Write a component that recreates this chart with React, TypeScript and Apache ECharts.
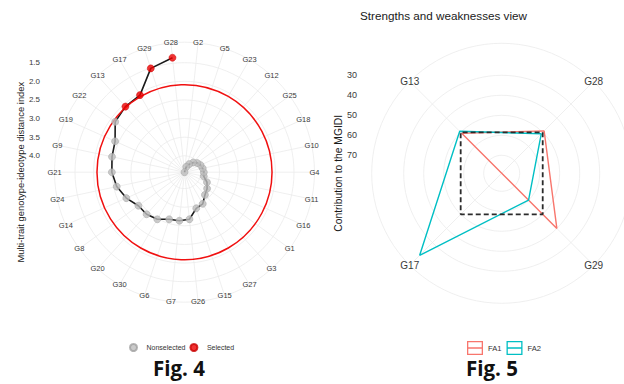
import React, { useEffect, useRef } from "react";
import * as echarts from "echarts";

// ---------------- Fig. 4 data ----------------
// genotypes in clockwise order around the circle, starting at the top
const fig4AngleCategories = [
  "G28", "G2", "G5", "G23", "G12", "G25", "G18", "G10", "G4", "G11",
  "G16", "G1", "G3", "G27", "G15", "G26", "G7", "G6", "G30", "G20",
  "G8", "G14", "G24", "G21", "G9", "G19", "G22", "G13", "G17", "G29",
];
// genotypes ranked by MGIDI (path order)
const fig4RankGenotypes = [
  "G28", "G29", "G17", "G13", "G22", "G19", "G9", "G21", "G24", "G14",
  "G8", "G20", "G30", "G6", "G7", "G26", "G15", "G27", "G3", "G1",
  "G16", "G11", "G4", "G10", "G18", "G25", "G12", "G23", "G5", "G2",
];
const fig4Mgidi = [
  1.35, 1.51, 2.05, 2.07, 2.14, 2.4, 2.45, 2.49, 2.58, 2.73,
  2.91, 2.92, 2.98, 3.11, 3.13, 3.17, 3.42, 3.46, 3.62, 3.69,
  3.78, 3.91, 3.92, 3.94, 3.97, 4.02, 4.09, 4.19, 4.29, 4.44,
];
const fig4Selected = ["G28", "G29", "G17", "G13"];
const fig4Cutoff = 2.09;
const fig4TickLabels = [1.5, 2.0, 2.5, 3.0, 3.5, 4.0];
const fig4LegendLabels = ["Nonselected", "Selected"];

// ---------------- Fig. 5 data ----------------
const fig5Categories = ["G28", "G29", "G17", "G13"];
const fig5FA1 = [49.0, 40.0, 79.0, 50.7];
const fig5FA2 = [51.0, 60.0, 21.0, 49.3];
const fig5Theoretical = [50, 50, 50, 50];
const fig5TickLabels = [30, 40, 50, 60, 70];
const fig5Factors = ["FA1", "FA2"];

// ---------------- layout / style ----------------
const W = 624;
const H = 384;
const LP = { cx: 184.5, cy: 172.2, R: 130, rOuter: 0.95, rCenter: 4.44, step: 0.05, startAngle: 102 };
const RP = { cx: 501.7, cy: 173.3, R: 130, rOuter: 14, rCenter: 79, step: 2, startAngle: 90 };
const FONT = "'Liberation Sans', Arial, sans-serif";
const GRID_COLOR = "#EBEBEB";
const TEXT_COLOR = "#3A3A3A";
const LEGEND_ICON =
  "path://M0,0H16V14H0Z M1.3,1.3V12.7H14.7V1.3Z M0,6.35H16V7.65H0Z";

function circleSeries(polarIndex: number, values: number[], cat: string, stroke: string, lineWidth: number, z: number) {
  return {
    type: "custom",
    coordinateSystem: "polar",
    polarIndex,
    silent: true,
    clip: false,
    z,
    data: values.map((v) => [v, cat]),
    renderItem: (params: any, api: any) => {
      const c = api.coord([api.value(0), api.value(1)]);
      const cs = params.coordSys;
      const r = Math.hypot(c[0] - cs.cx, c[1] - cs.cy);
      return {
        type: "circle",
        shape: { cx: cs.cx, cy: cs.cy, r },
        style: { fill: "none", stroke, lineWidth },
      };
    },
  };
}

function angleLabelSeries(polarIndex: number, cats: string[], rOuter: number, fontSize: number) {
  return {
    type: "custom",
    coordinateSystem: "polar",
    polarIndex,
    silent: true,
    clip: false,
    z: 6,
    data: cats.map((c) => [rOuter, c]),
    renderItem: (params: any, api: any) => {
      const c = api.coord([api.value(0), api.value(1)]);
      return {
        type: "text",
        x: c[0],
        y: c[1],
        style: {
          text: cats[params.dataIndex],
          fontSize,
          fontFamily: FONT,
          fill: TEXT_COLOR,
          align: "center",
          verticalAlign: "middle",
        },
      };
    },
  };
}

function closeLoop(vals: number[]) {
  return [...vals, vals[0]].map((v, i) => [v, fig5Categories[i % fig5Categories.length]]);
}

function angleAxisCfg(polarIndex: number, data: string[], startAngle: number) {
  return {
    polarIndex,
    type: "category",
    data,
    startAngle,
    clockwise: true,
    boundaryGap: true,
    axisLine: { show: true, lineStyle: { color: GRID_COLOR, width: 0.8 } },
    axisTick: { show: false, interval: 0, alignWithLabel: true },
    axisLabel: { show: false, interval: 0 },
    splitLine: { show: true, interval: 0, lineStyle: { color: GRID_COLOR, width: 0.8 } },
  };
}

function buildOption(): any {
  const pairs = fig4RankGenotypes.map((g, i) => [fig4Mgidi[i], g]);
  const nonSel = pairs.filter((p) => !fig4Selected.includes(p[1] as string));
  const sel = pairs.filter((p) => fig4Selected.includes(p[1] as string));

  const hiddenAxisParts = {
    axisLine: { show: false },
    axisTick: { show: false },
    splitLine: { show: false },
  };

  return {
    animation: false,
    backgroundColor: "#ffffff",
    textStyle: { fontFamily: FONT },
    title: [
      {
        text: "Strengths and weaknesses view",
        left: 360,
        top: 9,
        padding: 0,
        textStyle: { fontSize: 11.7, fontWeight: "normal", color: "#1a1a1a", fontFamily: FONT },
      },
      {
        text: "Fig. 4",
        left: 153,
        top: 357,
        padding: 0,
        textStyle: { fontSize: 20.5, fontWeight: "bold", color: "#111", fontFamily: "'Open Sans', sans-serif" },
      },
      {
        text: "Fig. 5",
        left: 466,
        top: 357,
        padding: 0,
        textStyle: { fontSize: 20.5, fontWeight: "bold", color: "#111", fontFamily: "'Open Sans', sans-serif" },
      },
    ],
    legend: [
      {
        data: fig4LegendLabels,
        left: 129,
        top: 343,
        padding: 0,
        itemWidth: 16,
        itemHeight: 7,
        itemGap: 4,
        icon: "circle",
        selectedMode: false,
        textStyle: { fontSize: 7, color: "#333", fontFamily: FONT },
      },
      {
        data: fig5Factors.map((n) => ({ name: n, icon: LEGEND_ICON })),
        left: 467,
        top: 341,
        padding: 0,
        itemWidth: 16,
        itemHeight: 14,
        itemGap: 5,
        selectedMode: false,
        itemStyle: { borderWidth: 0 },
        textStyle: { fontSize: 7.6, color: "#333", fontFamily: FONT },
      },
    ],
    polar: [
      { center: [LP.cx, LP.cy], radius: LP.R },
      { center: [RP.cx, RP.cy], radius: RP.R },
    ],
    angleAxis: [
      angleAxisCfg(0, fig4AngleCategories, LP.startAngle),
      angleAxisCfg(1, fig5Categories, RP.startAngle),
    ],
    radiusAxis: [
      {
        polarIndex: 0,
        type: "value",
        min: LP.rOuter,
        max: LP.rCenter,
        inverse: true,
        axisLabel: { show: false },
        ...hiddenAxisParts,
      },
      {
        polarIndex: 1,
        type: "value",
        min: RP.rOuter,
        max: RP.rCenter,
        inverse: true,
        axisLabel: { show: false },
        ...hiddenAxisParts,
      },
    ],
    grid: [
      { left: 44, top: LP.cy - LP.R, width: 1, height: 2 * LP.R, containLabel: false, outerBoundsMode: "none" },
      { left: 361, top: RP.cy - RP.R, width: 1, height: 2 * RP.R, containLabel: false, outerBoundsMode: "none" },
    ],
    xAxis: [
      { gridIndex: 0, type: "value", show: false },
      { gridIndex: 1, type: "value", show: false },
    ],
    yAxis: [
      {
        gridIndex: 0,
        type: "value",
        min: LP.rOuter,
        max: LP.rOuter + 2 * (LP.rCenter - LP.rOuter),
        interval: LP.step,
        inverse: true,
        ...hiddenAxisParts,
        axisLabel: {
          margin: 4,
          fontSize: 8,
          color: TEXT_COLOR,
          fontFamily: FONT,
          formatter: (v: number) =>
            fig4TickLabels.some((t) => Math.abs(t - v) < 1e-6) ? v.toFixed(1) : "",
        },
        name: "Multi-trait genotype-ideotype distance index",
        nameLocation: "middle",
        nameRotate: 90,
        nameGap: 17,
        nameTextStyle: { fontSize: 9.4, color: "#1a1a1a", fontFamily: FONT },
      },
      {
        gridIndex: 1,
        type: "value",
        min: RP.rOuter,
        max: RP.rOuter + 2 * (RP.rCenter - RP.rOuter),
        interval: RP.step,
        inverse: true,
        ...hiddenAxisParts,
        axisLabel: {
          margin: 4,
          fontSize: 9,
          color: TEXT_COLOR,
          fontFamily: FONT,
          formatter: (v: number) =>
            fig5TickLabels.some((t) => Math.abs(t - v) < 1e-6) ? String(Math.round(v)) : "",
        },
        name: "Contribution to the MGIDI",
        nameLocation: "middle",
        nameRotate: 90,
        nameGap: 16,
        nameTextStyle: { fontSize: 10.3, color: "#1a1a1a", fontFamily: FONT },
      },
    ],
    series: [
      // ---- Fig. 4 ----
      circleSeries(0, fig4TickLabels, fig4AngleCategories[0], GRID_COLOR, 0.8, 1),
      {
        type: "line",
        coordinateSystem: "polar",
        polarIndex: 0,
        data: pairs,
        symbol: "none",
        silent: true,
        clip: false,
        lineStyle: { color: "#1a1a1a", width: 1.6 },
        z: 2,
      },
      circleSeries(0, [fig4Cutoff], fig4AngleCategories[0], "#F01010", 1.5, 3),
      {
        type: "scatter",
        name: "Nonselected",
        coordinateSystem: "polar",
        polarIndex: 0,
        data: nonSel,
        symbolSize: 7,
        clip: false,
        itemStyle: { color: "#BDBDBD", borderColor: "#A0A0A0", borderWidth: 0.6 },
        z: 4,
      },
      {
        type: "scatter",
        name: "Selected",
        coordinateSystem: "polar",
        polarIndex: 0,
        data: sel,
        symbolSize: 7,
        clip: false,
        itemStyle: { color: "#EE0000", borderColor: "#C80000", borderWidth: 0.6 },
        z: 4,
      },
      angleLabelSeries(0, fig4AngleCategories, LP.rOuter, 7.5),
      // ---- Fig. 5 ----
      circleSeries(1, fig5TickLabels, fig5Categories[0], GRID_COLOR, 0.8, 1),
      {
        type: "line",
        name: "FA1",
        coordinateSystem: "polar",
        polarIndex: 1,
        data: closeLoop(fig5FA1),
        symbol: "none",
        silent: true,
        clip: false,
        itemStyle: { color: "#F8766D" },
        lineStyle: { color: "#F8766D", width: 1.4 },
        z: 3,
      },
      {
        type: "line",
        name: "FA2",
        coordinateSystem: "polar",
        polarIndex: 1,
        data: closeLoop(fig5FA2),
        symbol: "none",
        silent: true,
        clip: false,
        itemStyle: { color: "#00BFC4" },
        lineStyle: { color: "#00BFC4", width: 1.4 },
        z: 3,
      },
      {
        type: "line",
        name: "Theoretical",
        coordinateSystem: "polar",
        polarIndex: 1,
        data: closeLoop(fig5Theoretical),
        symbol: "none",
        silent: true,
        clip: false,
        lineStyle: { color: "#2b2b2b", width: 1.8, type: [5, 3] },
        z: 4,
      },
      angleLabelSeries(1, fig5Categories, RP.rOuter, 10),
    ],
  };
}

export default function App() {
  const ref = useRef<HTMLDivElement>(null);
  useEffect(() => {
    if (!ref.current) return;
    const chart = echarts.init(ref.current, undefined, { renderer: "svg", width: W, height: H });
    chart.setOption(buildOption());
    return () => {
      chart.dispose();
    };
  }, []);
  return (
    <div
      ref={ref}
      style={{ position: "fixed", left: 0, top: 0, width: W, height: H, background: "#fff" }}
    />
  );
}
